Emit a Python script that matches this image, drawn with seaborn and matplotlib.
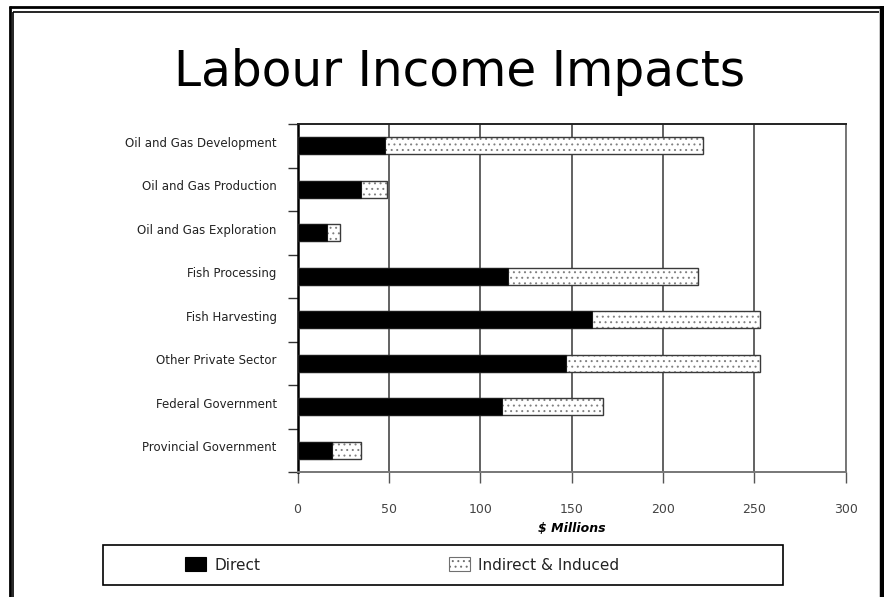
import matplotlib
matplotlib.use("Agg")
import matplotlib.pyplot as plt
import matplotlib.transforms as mtransforms
from matplotlib.patches import Rectangle, Patch
from matplotlib.lines import Line2D
import numpy as np
import pandas as pd
import seaborn as sns

# Labour income by sector, $ millions
sectors = [
    "Oil and Gas Development",
    "Oil and Gas Production",
    "Oil and Gas Exploration",
    "Fish Processing",
    "Fish Harvesting",
    "Other Private Sector",
    "Federal Government",
    "Provincial Government",
]
direct = [48, 35, 16, 115, 161, 147, 112, 19]
indirect_induced = [174, 14, 7, 104, 92, 106, 55, 16]
x_ticks = [0, 50, 100, 150, 200, 250, 300]
series_names = ["Direct", "Indirect & Induced"]

df = pd.DataFrame({"sector": sectors, "direct": direct, "indirect": indirect_induced})
df["total"] = df["direct"] + df["indirect"]

sns.set_theme(style="white")
plt.rcParams["font.family"] = ["DejaVu Sans"]
plt.rcParams["hatch.linewidth"] = 0.7

W, H = 884, 597
fig = plt.figure(figsize=(W / 100, H / 100), dpi=100)
fig.patch.set_facecolor("white")


def fx(px):
    return px / W


def fy(py):
    return 1 - py / H


ax = fig.add_axes([fx(297.5), fy(472), (845.7 - 297.5) / W, (472 - 124) / H])
ax.set_facecolor("white")

# stacked bars: full length stippled, direct part in solid black on top
sns.barplot(data=df, y="sector", x="total", orient="h", color="white",
            saturation=1, width=0.4, edgecolor="#808080", linewidth=0,
            hatch="...", ax=ax, zorder=3)
sns.barplot(data=df, y="sector", x="total", orient="h", fill=False,
            width=0.4, edgecolor="#3a3a3a", linewidth=1.0, ax=ax, zorder=4)
sns.barplot(data=df, y="sector", x="direct", orient="h", color="black",
            saturation=1, width=0.4, edgecolor="#1a1a1a", linewidth=0.8,
            ax=ax, zorder=5)

ax.set_xlim(0, 300)
ax.set_ylim(7.5, -0.5)
ax.set_xticks(x_ticks)
ax.set_xticklabels([str(t) for t in x_ticks], color="#444444", fontsize=9)
ax.tick_params(axis="x", direction="out", length=8, width=1.0,
               color="#555555", pad=14, bottom=True)

ax.set_yticks(range(len(sectors)))
ax.set_yticklabels(sectors, fontsize=8.5, color="#222222")
ax.tick_params(axis="y", which="major", length=0, pad=15, left=False)
ax.set_yticks(np.arange(-0.5, len(sectors), 1), minor=True)
ax.tick_params(axis="y", which="minor", direction="out", length=7,
               width=1.0, color="#333333", left=True)
shift = mtransforms.ScaledTranslation(0, 4 / 100, fig.dpi_scale_trans)
for lbl in ax.get_yticklabels():
    lbl.set_transform(lbl.get_transform() + shift)

ax.set_axisbelow(True)
ax.xaxis.grid(True, color="#555555", linewidth=1.3)
ax.yaxis.grid(False)

for side, col, lw in [("left", "#000000", 1.8), ("top", "#222222", 1.4),
                      ("right", "#777777", 1.4), ("bottom", "#777777", 1.4)]:
    ax.spines[side].set_visible(True)
    ax.spines[side].set_color(col)
    ax.spines[side].set_linewidth(lw)

ax.set_ylabel("")
ax.set_xlabel("$ Millions", fontsize=9, fontweight="bold", fontstyle="italic",
              color="black", labelpad=5)

# title
fig.text(fx(460), fy(86), "Labour Income Impacts", ha="center", va="baseline",
         fontsize=35, color="black")

# legend: outlined box with two entries
fig.add_artist(Rectangle((fx(103), fy(585)), (783 - 103) / W, (585 - 545) / H,
                         transform=fig.transFigure, fill=False,
                         edgecolor="black", linewidth=1.2))
handles = [
    Patch(facecolor="black", edgecolor="black", linewidth=0.8),
    Patch(facecolor="white", edgecolor="#707070", hatch="...", linewidth=0.8),
]
for h, name, xpos in zip(handles, series_names, [185, 449]):
    fig.legend(handles=[h], labels=[name], loc="center left",
               bbox_to_anchor=(fx(xpos), fy(565)), frameon=False,
               fontsize=11, handlelength=1.4, handleheight=1.0,
               handletextpad=0.5, borderpad=0, borderaxespad=0,
               labelcolor="#222222")

# double page frame
frame = dict(transform=fig.transFigure, color="black", solid_capstyle="butt")
fig.add_artist(Line2D([fx(9.5), fx(9.5)], [fy(6), fy(H)], linewidth=2.0, **frame))
fig.add_artist(Line2D([fx(13.2), fx(13.2)], [fy(11.5), fy(H)], linewidth=1.2, **frame))
fig.add_artist(Line2D([fx(8.5), fx(W)], [fy(7.2), fy(7.2)], linewidth=2.0, **frame))
fig.add_artist(Line2D([fx(12.5), fx(879)], [fy(12), fy(12)], linewidth=1.2, **frame))
fig.add_artist(Line2D([fx(882), fx(882)], [fy(6), fy(H)], linewidth=3.2, **frame))

fig.savefig("out.png", dpi=100, facecolor="white")
